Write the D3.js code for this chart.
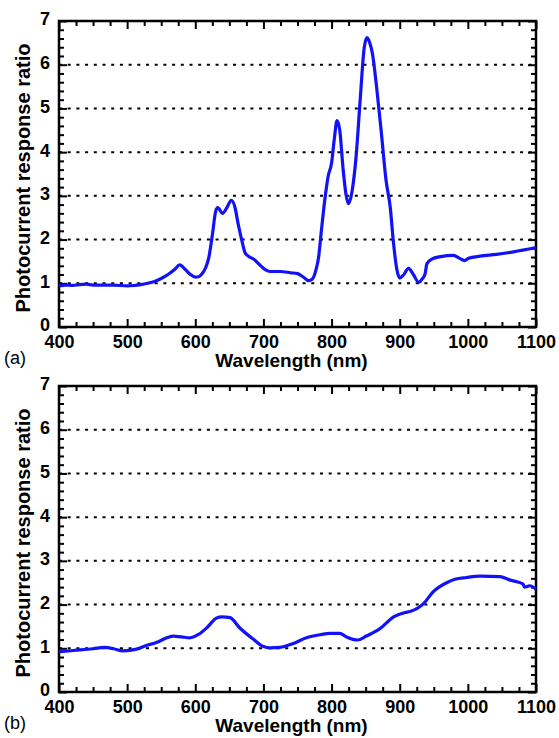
<!DOCTYPE html>
<html>
<head>
<meta charset="utf-8">
<script src="https://cdn.jsdelivr.net/npm/d3@7"></script>
<style>
  body { margin: 0; background: #fff; }
  svg { display: block; font-family: 'Liberation Sans', Arial, sans-serif; }
  .tick text { font-family: 'Liberation Sans', Arial, sans-serif; font-size: 18px; font-weight: bold; fill: #000; }
  .tick line { stroke: #000; stroke-width: 2; }
  .domain { display: none; }
</style>
</head>
<body>
<div id="chart"></div>
<script>
// panel (a)
const wavelengthA = [400, 410, 420, 430, 440, 450, 460, 480, 500, 510, 520, 530, 540, 550, 560, 570, 577, 585, 593, 600,
  605, 610, 615, 620, 625, 630, 633, 640, 646, 653, 658, 663, 668, 673, 678, 686, 694, 702, 710, 725,
  740, 750, 758, 766, 772, 777, 781, 785, 790, 795, 800, 804, 808, 812, 817, 821, 825, 830, 836, 842,
  848, 852, 856, 860, 866, 873, 880, 886, 891, 896, 900, 905, 913, 920, 928, 933, 937, 940, 947, 960,
  979, 988, 995, 1001, 1018, 1042, 1067, 1100]
const ratioA = [0.94, 0.96, 0.95, 0.97, 0.98, 0.96, 0.96, 0.96, 0.94, 0.95, 0.97, 1.0, 1.04, 1.11, 1.2, 1.32, 1.42, 1.32, 1.2, 1.14,
  1.15, 1.22, 1.35, 1.6, 2.1, 2.65, 2.73, 2.6, 2.72, 2.9, 2.75, 2.35, 2.0, 1.7, 1.62, 1.55, 1.43, 1.32, 1.27, 1.27,
  1.24, 1.22, 1.15, 1.06, 1.1, 1.3, 1.6, 2.2, 2.9, 3.45, 3.75, 4.3, 4.72, 4.5, 3.6, 3.05, 2.82, 3.1, 3.9, 5.2,
  6.4, 6.62, 6.5, 6.25, 5.5, 4.45, 3.35, 2.75, 1.9, 1.3, 1.12, 1.18, 1.34, 1.2, 1.02, 1.1, 1.2, 1.45, 1.55, 1.61,
  1.64, 1.57, 1.52, 1.57, 1.62, 1.66, 1.72, 1.82]

// panel (b)
const wavelengthB = [400, 421, 450, 467, 480, 494, 514, 529, 543, 558, 568, 580, 592, 604, 617, 631, 639, 651, 665, 685,
  700, 710, 724, 744, 763, 783, 798, 812, 822, 838, 851, 871, 891, 908, 915, 935, 949, 969, 981, 998,
  1018, 1047, 1062, 1072, 1081, 1083, 1091, 1100]
const ratioB = [0.92, 0.95, 0.99, 1.02, 0.99, 0.94, 0.98, 1.07, 1.13, 1.24, 1.28, 1.26, 1.24, 1.31, 1.47, 1.69, 1.72, 1.7, 1.47, 1.21,
  1.04, 1.01, 1.02, 1.11, 1.24, 1.31, 1.34, 1.34, 1.26, 1.19, 1.28, 1.45, 1.72, 1.82, 1.84, 2.02, 2.29, 2.5, 2.58, 2.62,
  2.65, 2.64, 2.56, 2.52, 2.47, 2.4, 2.43, 2.35]

const xMajor = [400, 500, 600, 700, 800, 900, 1000, 1100]
const yMajor = [0, 1, 2, 3, 4, 5, 6, 7]
const gridValues = [1, 2, 3, 4, 5, 6]

const width = 559, height = 738
const left = 59, right = 536
const plotHeight = 306

const svg = d3.select('#chart').append('svg')
  .attr('width', width)
  .attr('height', height)

const xScale = d3.scaleLinear().domain([400, 1100]).range([0, right - left])
const yScale = d3.scaleLinear().domain([0, 7]).range([plotHeight, 0])

const xMinor = d3.range(400, 1101, 25).filter(d => d % 100 !== 0)
const yMinor = d3.range(0, 7.01, 0.2).filter(d => Math.abs(d - Math.round(d)) > 0.01)

const line = d3.line()
  .x(d => xScale(d[0]))
  .y(d => yScale(d[1]))
  .curve(d3.curveMonotoneX)

const panel = (wl, ratio, top, tag) => {
  const g = svg.append('g')
    .attr('transform', 'translate(' + left + ', ' + top + ')')

  g.selectAll('.grid')
    .data(gridValues).enter()
    .append('line').classed('grid', true)
    .attr('x1', 0)
    .attr('x2', right - left)
    .attr('y1', d => yScale(d))
    .attr('y2', d => yScale(d))
    .attr('stroke', '#000')
    .attr('stroke-width', 2)
    .attr('stroke-dasharray', '3,5.7')

  // inward ticks on all four sides
  g.append('g')
    .attr('transform', 'translate(0, ' + plotHeight + ')')
    .call(d3.axisBottom(xScale).tickValues(xMajor).tickFormat(d3.format('d'))
      .tickSize(-8).tickSizeOuter(0).tickPadding(8))
  g.append('g')
    .attr('transform', 'translate(0, ' + plotHeight + ')')
    .call(d3.axisBottom(xScale).tickValues(xMinor).tickSize(-5).tickSizeOuter(0).tickFormat(''))
  g.append('g')
    .call(d3.axisTop(xScale).tickValues(xMajor).tickSize(-8).tickSizeOuter(0).tickFormat(''))
  g.append('g')
    .call(d3.axisTop(xScale).tickValues(xMinor).tickSize(-5).tickSizeOuter(0).tickFormat(''))

  g.append('g')
    .call(d3.axisLeft(yScale).tickValues(yMajor).tickFormat(d3.format('d'))
      .tickSize(-8).tickSizeOuter(0).tickPadding(9))
    .selectAll('text').attr('dy', '0.22em')
  g.append('g')
    .call(d3.axisLeft(yScale).tickValues(yMinor).tickSize(-5).tickSizeOuter(0).tickFormat(''))
  g.append('g')
    .attr('transform', 'translate(' + (right - left) + ', 0)')
    .call(d3.axisRight(yScale).tickValues(yMajor).tickSize(-8).tickSizeOuter(0).tickFormat(''))
  g.append('g')
    .attr('transform', 'translate(' + (right - left) + ', 0)')
    .call(d3.axisRight(yScale).tickValues(yMinor).tickSize(-5).tickSizeOuter(0).tickFormat(''))

  g.append('rect')
    .attr('width', right - left)
    .attr('height', plotHeight)
    .attr('fill', 'none')
    .attr('stroke', '#000')
    .attr('stroke-width', 2.5)

  g.append('path')
    .datum(wl.map((d, i) => [d, ratio[i]]))
    .attr('d', line)
    .attr('fill', 'none')
    .attr('stroke', '#1212f8')
    .attr('stroke-width', 3.2)
    .attr('stroke-linejoin', 'round')

  g.append('text')
    .attr('x', (right - left) / 2 - 6)
    .attr('y', plotHeight + 40)
    .attr('text-anchor', 'middle')
    .style('font-size', '19px')
    .style('font-weight', 'bold')
    .text('Wavelength (nm)')

  g.append('text')
    .attr('transform', 'translate(' + (30 - left) + ', ' + (plotHeight / 2 + 4) + ') rotate(-90)')
    .attr('text-anchor', 'middle')
    .style('font-size', '20px')
    .style('font-weight', 'bold')
    .text('Photocurrent response ratio')

  g.append('text')
    .attr('x', 4 - left)
    .attr('y', plotHeight + 37)
    .style('font-size', '18px')
    .text(tag)
}

panel(wavelengthA, ratioA, 21, '(a)')
panel(wavelengthB, ratioB, 386, '(b)')
</script>
</body>
</html>
